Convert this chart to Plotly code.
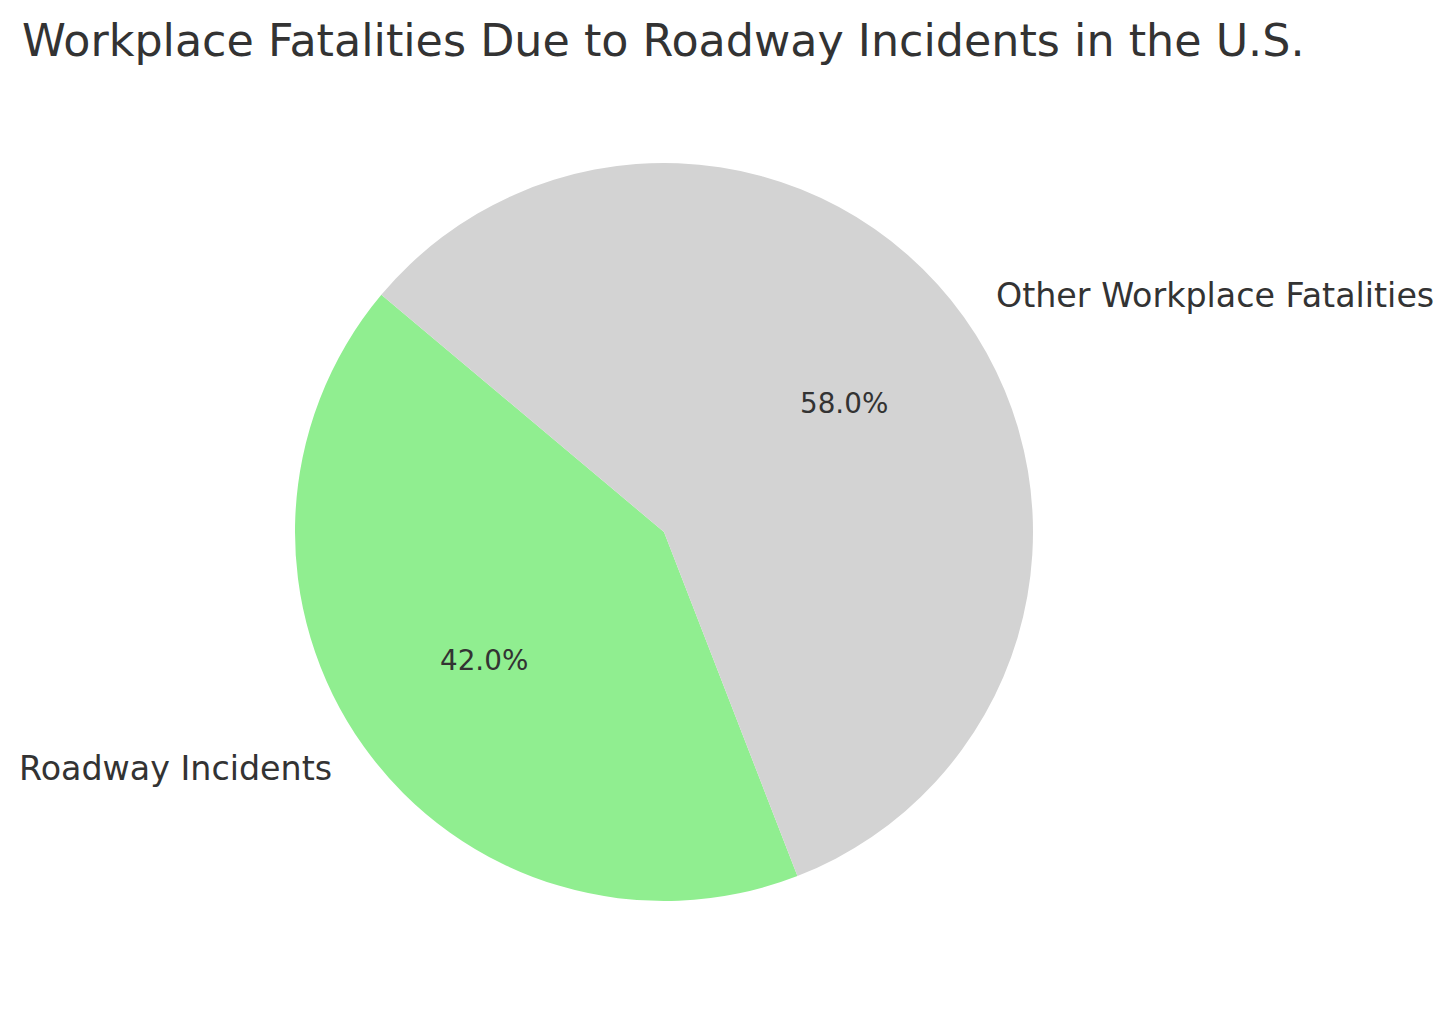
import numpy as np
import plotly.graph_objects as go

# data
labels = ["Roadway Incidents", "Other Workplace Fatalities"]
values = [42.0, 58.0]
colors = ["#90EE90", "#D3D3D3"]
title_text = "Workplace Fatalities Due to Roadway Incidents in the U.S."

W, H = 1453, 1014
off = 8  # page margin of the html body
start_angle = 140  # degrees, counterclockwise from 3 o'clock
cx, cy, r = 664 - off, 532 - off, 369  # pie centre and radius in pixels
text_color = "#333333"


def pie_figure():
    fig = go.Figure()
    total = float(np.sum(values))
    dom_x = [(cx - r) / W, (cx + r) / W]
    dom_y = [1 - (cy + r) / H, 1 - (cy - r) / H]
    # plotly (counterclockwise) puts the first slice clockwise of `rotation`,
    # so shift by its size to get matplotlib's startangle behaviour
    first_span = 360 * values[0] / total
    fig.add_trace(go.Pie(
        labels=labels,
        values=values,
        marker=dict(colors=colors, line=dict(width=0)),
        sort=False,
        direction="counterclockwise",
        rotation=90 - start_angle - first_span,
        textinfo="none",
        showlegend=False,
        domain=dict(x=dom_x, y=dom_y),
    ))

    # label and percent positions like matplotlib (1.1 r and 0.6 r)
    annotations = []
    a0 = start_angle
    for lab, val in zip(labels, values):
        span = 360 * val / total
        mid = np.deg2rad(a0 + span / 2)
        a0 += span
        lx = cx + 1.1 * r * np.cos(mid)
        ly = cy - 1.1 * r * np.sin(mid)
        annotations.append(dict(
            x=lx / W, y=1 - ly / H, xref="paper", yref="paper",
            text=lab, showarrow=False,
            xanchor="left" if np.cos(mid) > 0 else "right", yanchor="middle",
            font=dict(size=33.3, color=text_color),
        ))
        px_ = cx + 0.6 * r * np.cos(mid)
        py_ = cy - 0.6 * r * np.sin(mid)
        annotations.append(dict(
            x=px_ / W, y=1 - py_ / H, xref="paper", yref="paper",
            text=f"{100 * val / total:.1f}%", showarrow=False,
            xanchor="center", yanchor="middle",
            font=dict(size=27.8, color=text_color),
        ))

    fig.update_layout(
        width=W,
        height=H,
        margin=dict(l=0, r=0, t=0, b=0),
        paper_bgcolor="white",
        plot_bgcolor="white",
        font=dict(family="DejaVu Sans", color=text_color),
        title=dict(
            text=title_text,
            x=(22 - off) / W, xanchor="left", xref="paper",
            y=1 - (40 - off) / H, yanchor="middle", yref="container",
            font=dict(size=44.4, color=text_color),
        ),
        annotations=annotations,
    )
    return fig


fig = pie_figure()
fig.write_html("out.html")
